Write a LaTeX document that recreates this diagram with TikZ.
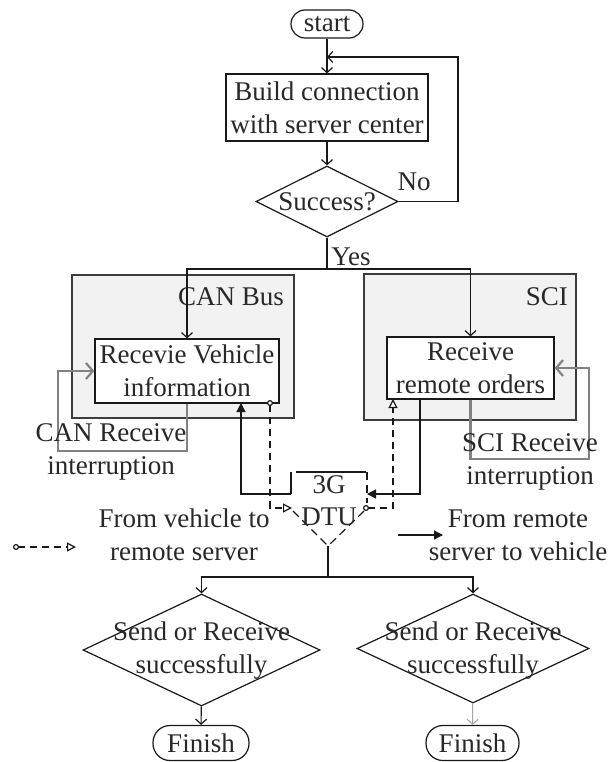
\documentclass[tikz,border=0pt]{standalone}
\usepackage{fontspec}
\setmainfont{Liberation Serif}
\usetikzlibrary{arrows.meta,shapes.geometric}
\definecolor{txtc}{RGB}{40,40,40}
\definecolor{linec}{RGB}{25,25,25}
\definecolor{grpfill}{RGB}{242,242,242}
\definecolor{grpline}{RGB}{60,60,60}
\definecolor{intc}{RGB}{130,130,130}
\begin{document}
\begin{tikzpicture}[x=1pt,y=-1pt,
  every node/.style={font=\fontsize{27}{33}\selectfont, text=txtc, inner sep=0pt},
  proc/.style={draw=linec, fill=white, line width=1.2pt, align=center},
  term/.style={draw=linec, fill=white, line width=1.2pt},
  dia/.style={draw=linec, fill=white, line width=1.2pt, diamond},
  grp/.style={draw=grpline, fill=grpfill, line width=1.5pt},
  lbl/.style={align=center},
  conn/.style={draw=linec, line width=1.2pt},
  flow/.style={conn, -{Straight Barb[length=5pt,width=11pt]}},
  gint/.style={draw=intc, line width=2.2pt, -{Straight Barb[length=7pt,width=16pt]}},
  solidin/.style={conn, -{Triangle[length=9pt,width=9pt]}},
  dashin/.style={conn, dash pattern=on 7pt off 5pt, {Circle[open,length=6pt,width=6pt,fill=white]}-{Triangle[open,length=9pt,width=9pt,fill=white]}},
  dtuline/.style={conn, dash pattern=on 8pt off 5pt}
]
\fill[white] (0,0) rectangle (608,762);
\useasboundingbox (0,0) rectangle (608,762);

% top flow
\node[term, minimum width=72, minimum height=28, rounded corners=14pt] (start) at (327,24) {start};
\node[proc, minimum width=202, minimum height=67] (build) at (327,107.5) {Build connection\\with server center};
\node[dia, minimum width=142, minimum height=71] (succ) at (327,201.5) {};
\node[lbl] (succt) at (327,202) {Success?};
\node[lbl] (no) at (414,182) {No};
\node[lbl] (yes) at (351,257) {Yes};

% group boxes
\node[grp, minimum width=222, minimum height=143] (canbox) at (183,346.5) {};
\node[anchor=east] (cant) at (284,297) {CAN Bus};
\node[grp, minimum width=212, minimum height=146] (scibox) at (470,347) {};
\node[anchor=east] (scit) at (568,297) {SCI};

\node[proc, minimum width=184, minimum height=64] (recv) at (187,371) {Recevie Vehicle\\information};
\node[proc, minimum width=167, minimum height=62] (rro) at (470.5,368) {Receive\\remote orders};

% flow connectors
\coordinate (loopc) at (327,57);
\draw[flow] (start) -- (build);
\draw[flow] (build) -- (succ);
\draw[flow] (succ.east) -- (458,201.5) |- (loopc);
\coordinate (yesj) at (327,269);
\draw[conn] (succ.south) -- (yesj);
\draw[flow] (yesj) -| (recv.north);
\draw[flow] (yesj) -| (rro.north);

% interruptions
\draw[gint] (recv.south) -- (187,451) -- (58,451) -- (58,371) -- (recv.west);
\node[lbl] (cani) at (111,452) {CAN Receive\\interruption};
\draw[gint] (rro.south) -- (470.5,459) -- (589,459) -- (589,368) -- (rro.east);
\node[lbl] (scii) at (530,461.5) {SCI Receive\\interruption};

% 3G DTU
\coordinate (dtuL) at (291,494);
\coordinate (dtuR) at (367,494);
\coordinate (dtuLi) at (292,508);
\coordinate (dtuRo) at (363,508);
\coordinate (dtuB) at (328,546);
\draw[conn] (296,472) -- (366,472);
\draw[conn] (291,472) -- (dtuL);
\draw[dtuline] (367,472) -- (367,503);
\draw[dtuline] (293,511) -- (dtuB);
\draw[dtuline] (364,511) -- (dtuB);
\node (g3) at (329,485) {3G};
\node (dtu) at (329,517) {DTU};

\coordinate (recvin) at (241,403);
\coordinate (recvout) at (270,400);
\coordinate (rroout) at (420,399);
\coordinate (rroin) at (393,399);
\draw[solidin] (dtuL) -| (recvin);
\draw[dashin] (recvout) -- (270,508) -- (dtuLi);
\draw[solidin] (rroout) |- (dtuR);
\draw[dashin] (dtuRo) -- (393,508) -- (rroin);

% bottom
\node[dia, minimum width=237, minimum height=112] (d1) at (201.5,650) {};
\node[lbl] (d1t) at (201.5,651) {Send or Receive\\successfully};
\node[dia, minimum width=232, minimum height=109] (d2) at (473,648.5) {};
\node[lbl] (d2t) at (473,651) {Send or Receive\\successfully};
\node[term, minimum width=96, minimum height=35, rounded corners=17pt] (fin1) at (201,743) {Finish};
\node[term, minimum width=93, minimum height=35, rounded corners=17pt] (fin2) at (472.5,743) {Finish};

\coordinate (split) at (328,577);
\draw[conn] (dtuB) -- (split);
\draw[flow] (split) -| (d1.north);
\draw[flow] (split) -| (d2.north);
\draw[flow] (d1) -- (fin1);
\draw[flow, draw=gray!70, line width=1pt] (d2) -- (fin2);

% legend
\coordinate (lgA) at (13,547);
\coordinate (lgB) at (76,547);
\draw[dashin] (lgA) -- (lgB);
\node[lbl] (lgt1) at (184,535) {From vehicle to\\remote server};
\coordinate (lgC) at (398,535);
\coordinate (lgD) at (443,535);
\draw[solidin] (lgC) -- (lgD);
\node[lbl] (lgt2) at (518,535.5) {From remote\\server to vehicle};
\end{tikzpicture}
\end{document}
